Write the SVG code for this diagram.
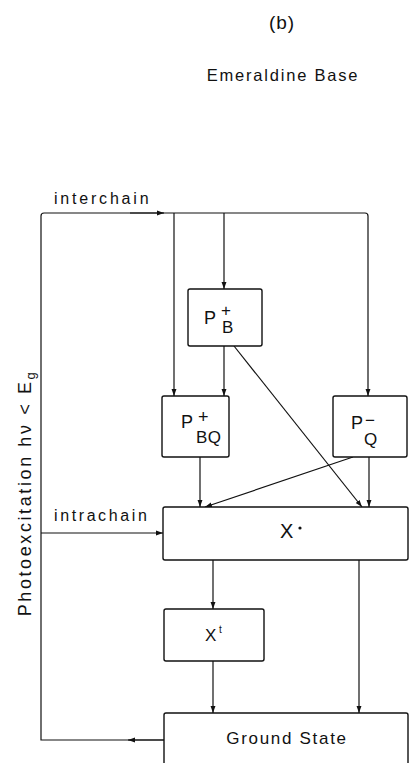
<svg xmlns="http://www.w3.org/2000/svg" width="409" height="763" viewBox="0 0 409 763">
<defs>
<style>
.t{font-family:"Liberation Sans",Arial,sans-serif;fill:#111;}
.box{fill:#fff;stroke:#111;stroke-width:1.4;}
.ln{fill:none;stroke:#111;stroke-width:1.2;}
</style>
<marker id="ah" viewBox="0 0 10 10" refX="10" refY="5" markerWidth="7" markerHeight="7" orient="auto" markerUnits="userSpaceOnUse">
<path d="M0,1.5 L10,5 L0,8.5 z" fill="#111"/>
</marker>
</defs>
<rect width="409" height="763" fill="#fff"/>
<text class="t" x="282" y="29" font-size="19" text-anchor="middle" letter-spacing="1">(b)</text>
<text class="t" x="283" y="81" font-size="16.5" text-anchor="middle" letter-spacing="1.8">Emeraldine Base</text>
<text class="t" x="54" y="204" font-size="16" letter-spacing="2.8">interchain</text>
<text class="t" x="54" y="521" font-size="16" letter-spacing="2.6">intrachain</text>
<text class="t" transform="translate(31,493) rotate(-90)" font-size="18" text-anchor="middle" letter-spacing="2.6">Photoexcitation  hν &lt; E<tspan font-size="13" dy="4">g</tspan></text>
<g id="connectors">
<path class="ln" d="M164,740 H41 V216 Q41,213 44,213 H365 Q368,213 368,216 V396" marker-end="url(#ah)"/>
<path class="ln" d="M164,740 H128" marker-end="url(#ah)"/>
<path class="ln" d="M130,213 H164" marker-end="url(#ah)"/>
<path class="ln" d="M174,213 V396" marker-end="url(#ah)"/>
<path class="ln" d="M224,213 V289" marker-end="url(#ah)"/>
<path class="ln" d="M224,346 V396" marker-end="url(#ah)"/>
<path class="ln" d="M41,533 H163" marker-end="url(#ah)"/>
<path class="ln" d="M200,457 V507" marker-end="url(#ah)"/>
<path class="ln" d="M369,457 V507" marker-end="url(#ah)"/>
<path class="ln" d="M234,346 L362,507" marker-end="url(#ah)"/>
<path class="ln" d="M353,457 L205,507" marker-end="url(#ah)"/>
<path class="ln" d="M213,560 V609" marker-end="url(#ah)"/>
<path class="ln" d="M213,661 V713" marker-end="url(#ah)"/>
<path class="ln" d="M359,560 V713" marker-end="url(#ah)"/>
</g>
<g id="PB">
<rect class="box" x="188" y="289" width="74" height="57" rx="2"/>
<text class="t" x="204" y="324" font-size="18">P</text>
<text class="t" x="221" y="316" font-size="17">+</text>
<text class="t" x="222" y="333" font-size="17">B</text>
</g>
<g id="PBQ">
<rect class="box" x="162" y="396" width="67" height="61" rx="2"/>
<text class="t" x="181" y="428" font-size="18">P</text>
<text class="t" x="198" y="423" font-size="18">+</text>
<text class="t" x="196" y="443" font-size="17" letter-spacing="0.5">BQ</text>
</g>
<g id="PQ">
<rect class="box" x="333" y="396" width="74" height="61" rx="2"/>
<text class="t" x="351" y="429" font-size="18">P</text>
<text class="t" x="365" y="426" font-size="17">−</text>
<text class="t" x="364" y="445" font-size="17">Q</text>
</g>
<g id="Xdot">
<rect class="box" x="163" y="507" width="245" height="53" rx="2"/>
<text class="t" x="280" y="538" font-size="20">X</text>
<circle cx="300" cy="528" r="1.6" fill="#111"/>
</g>
<g id="Xt">
<rect class="box" x="164" y="609" width="100" height="52" rx="2"/>
<text class="t" x="205" y="641" font-size="17">X</text>
<text class="t" x="219" y="633" font-size="10">t</text>
</g>
<g id="ground">
<rect class="box" x="164" y="713" width="244" height="60" rx="2"/>
<text class="t" x="287" y="744" font-size="17" text-anchor="middle" letter-spacing="1.7">Ground State</text>
</g>
</svg>
